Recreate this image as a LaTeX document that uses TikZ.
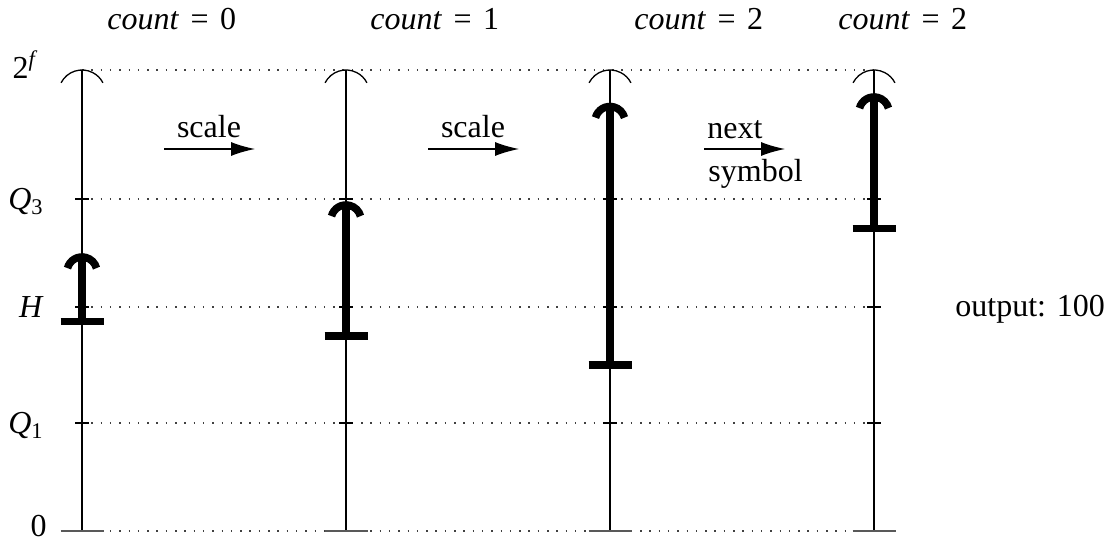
\documentclass[tikz,border=0pt]{standalone}
\usepackage{fontspec}
\setmainfont{Liberation Serif}
\usetikzlibrary{calc,arrows.meta}
\newcommand{\cnt}[1]{\textit{count}\hspace{0.36em}=\hspace{0.36em}#1}
\begin{document}
\begin{tikzpicture}[x=0.5pt,y=0.5pt,
  thinline/.style={line width=0.65pt},
  thickline/.style={line width=3.8pt},
  barline/.style={line width=3.6pt},
  dotline/.style={line width=0.75pt, dash pattern=on 0.75pt off 3.9pt, black!75},
  lbl/.style={font=\fontsize{16}{19}\selectfont, inner sep=0pt},
  arr/.style={line width=0.65pt, -{Latex[length=12pt,width=7pt]}}]
\useasboundingbox (0,0) rectangle (1118,-540);

% dotted level lines
\foreach \L/\n in {70/top,199/qthree,307/half,423/qone,531/zero}{
  \coordinate (\n-l) at (82,-\L);
  \coordinate (\n-r) at (874,-\L);
  \draw[dotline] (\n-l) -- (\n-r);
}

% columns
\foreach \x/\i in {82/1,346/2,610/3,874/4}{
  \coordinate (c\i-top) at (\x,-70);
  \coordinate (c\i-bot) at (\x,-531);
  \draw[thinline] (c\i-bot) -- (c\i-top);
  % ticks
  \foreach \L in {199,307,423}{
    \draw[thinline] (\x-7,-\L) -- (\x+7,-\L);
  }
  % bottom bar
  \draw[line width=0.9pt, black!65] (\x-21.5,-531) -- (\x+21.5,-531);
  % thin arc at top
  \coordinate (c\i-ac) at (\x,-93.5);
  \draw[thinline] ($(c\i-ac)+(153:23.5)$) arc[start angle=153, end angle=27, radius=23.5];
}

% thick intervals
\foreach \x/\lo/\hi/\i in {82/321.5/257/1, 346/336/205/2, 610/365/106.5/3, 874/228.5/97/4}{
  \coordinate (iv\i-lo) at (\x,-\lo);
  \coordinate (iv\i-hi) at (\x,-\hi);
  \draw[thickline] (iv\i-lo) -- (iv\i-hi);
  \draw[barline] (\x-21.5,-\lo) -- (\x+21.5,-\lo);
  \coordinate (iv\i-c) at (\x,-\hi-15);
  \draw[thickline] ($(iv\i-c)+(165:15)$) arc[start angle=165, end angle=15, radius=15];
}

% left labels
\node[lbl, anchor=base] (l2f) at (25.5,-79) {2\textsuperscript{\textit{f}}};
\node[lbl, anchor=base] (lq3) at (26,-209) {\textit{Q}\textsubscript{3}};
\node[lbl, anchor=base] (lh) at (31.5,-317) {\textit{H}};
\node[lbl, anchor=base] (lq1) at (26,-433) {\textit{Q}\textsubscript{1}};
\node[lbl, anchor=base] (l0) at (38.5,-536) {0};

% top labels
\node[lbl, anchor=base west] (t1) at (107,-30) {\cnt{0}};
\node[lbl, anchor=base west] (t2) at (370,-30) {\cnt{1}};
\node[lbl, anchor=base west] (t3) at (634,-30) {\cnt{2}};
\node[lbl, anchor=base west] (t4) at (838,-30) {\cnt{2}};

% arrows
\coordinate (a1s) at (164,-149); \coordinate (a1e) at (255,-149);
\draw[arr] (a1s) -- (a1e);
\node[lbl, anchor=base] (s1) at (209,-137) {scale};
\coordinate (a2s) at (428,-149); \coordinate (a2e) at (519,-149);
\draw[arr] (a2s) -- (a2e);
\node[lbl, anchor=base] (s2) at (473,-137) {scale};
\coordinate (a3s) at (704,-149); \coordinate (a3e) at (785,-149);
\draw[arr] (a3s) -- (a3e);
\node[lbl, anchor=base west] (n1) at (707,-139) {next};
\node[lbl, anchor=base west] (n2) at (708,-181) {symbol};

% output
\node[lbl, anchor=base west] (out) at (955,-316) {output: 100};
\end{tikzpicture}
\end{document}
